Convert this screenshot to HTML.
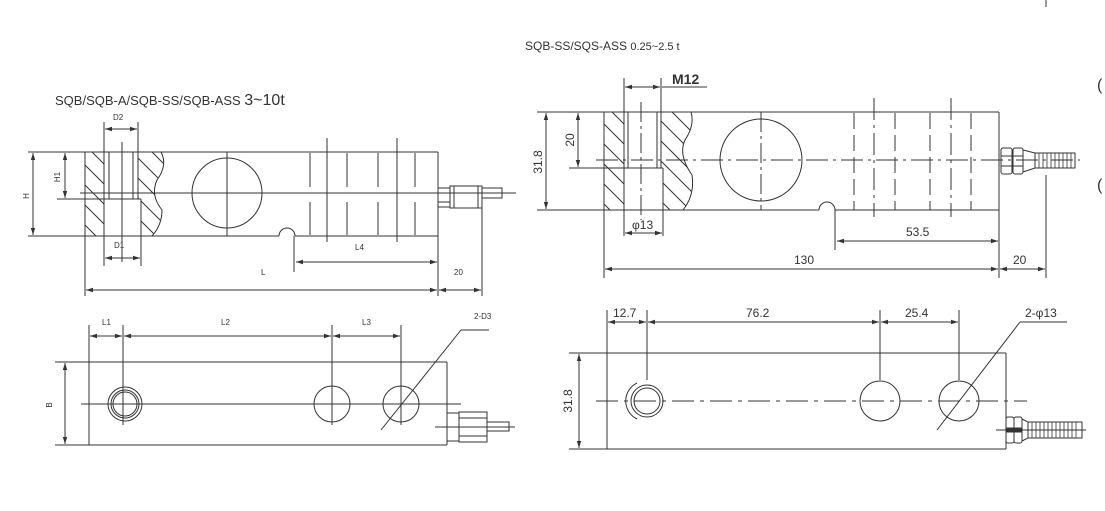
<!DOCTYPE html>
<html><head><meta charset="utf-8"><style>
html,body{margin:0;padding:0;background:#fff;}
svg{display:block;}
text{font-family:"Liberation Sans",sans-serif;fill:#333;}
</style></head><body>
<svg width="1105" height="511" viewBox="0 0 1105 511" xmlns="http://www.w3.org/2000/svg">
<defs>
<marker id="a" markerWidth="8" markerHeight="6" refX="7" refY="3" orient="auto-start-reverse" markerUnits="userSpaceOnUse"><path d="M0,0.8 L7,3 L0,5.2 Z" fill="#333"/></marker>
<clipPath id="h1"><path d="M85,152 H104 V236 H85 Z"/></clipPath>
<clipPath id="h2"><path d="M138,152 H161 Q168,165 157,180 Q150,195 162,210 Q162,225 152,236 H141 V199 H138 Z"/></clipPath>
<clipPath id="h3"><path d="M604,112 H624 V210 H604 Z"/></clipPath>
<clipPath id="h4"><path d="M661,112 H691 Q695,125 685,140 Q678,155 692,175 Q695,195 683,210 H663 V168 H661 Z"/></clipPath>
<pattern id="hp" width="20" height="20" patternUnits="userSpaceOnUse"><path d="M-4,-4 L24,24 M-24,-4 L4,24 M16,-4 L44,24" stroke="#333" stroke-width="1"/></pattern>
</defs>
<g stroke="#333" stroke-width="1" fill="none">
<line x1="1046" y1="0" x2="1046" y2="7"/>

<!-- TOP LEFT -->
<rect x="85" y="152" width="19" height="84" fill="url(#hp)" stroke="none" clip-path="url(#h1)"/>
<rect x="138" y="152" width="30" height="84" fill="url(#hp)" stroke="none" clip-path="url(#h2)"/>
<line x1="28" y1="152" x2="438" y2="152"/>
<line x1="28" y1="236" x2="279" y2="236"/>
<line x1="295" y1="236" x2="438" y2="236"/>
<path d="M279,236 A8,8 0 0 1 295,236"/>
<line x1="85" y1="152" x2="85" y2="296"/>
<line x1="438" y1="152" x2="438" y2="296"/>
<line x1="104" y1="122" x2="104" y2="266"/>
<line x1="109" y1="152" x2="109" y2="199"/>
<line x1="133" y1="152" x2="133" y2="199"/>
<line x1="138" y1="122" x2="138" y2="199"/>
<line x1="141" y1="199" x2="141" y2="266"/>
<line x1="57" y1="199" x2="141" y2="199"/>
<line x1="122" y1="142" x2="122" y2="262"/>
<path d="M161,152 Q168,165 157,180 Q150,195 162,210 Q162,225 152,236"/>
<line x1="105" y1="129" x2="137" y2="129" marker-start="url(#a)" marker-end="url(#a)"/>
<line x1="105" y1="258" x2="140" y2="258" marker-start="url(#a)" marker-end="url(#a)"/>
<line x1="33" y1="153" x2="33" y2="235" marker-start="url(#a)" marker-end="url(#a)"/>
<line x1="65" y1="153" x2="65" y2="198" marker-start="url(#a)" marker-end="url(#a)"/>
<line x1="80" y1="193" x2="516" y2="193"/>
<circle cx="227" cy="193" r="35"/>
<line x1="227" y1="152" x2="227" y2="236"/>
<g>
<line x1="310" y1="153" x2="310" y2="187"/><line x1="310" y1="202" x2="310" y2="235"/>
<line x1="347" y1="153" x2="347" y2="187"/><line x1="347" y1="202" x2="347" y2="235"/>
<line x1="378" y1="153" x2="378" y2="187"/><line x1="378" y1="202" x2="378" y2="235"/>
<line x1="415" y1="153" x2="415" y2="187"/><line x1="415" y1="202" x2="415" y2="235"/>
<line x1="327" y1="138" x2="327" y2="242"/>
<line x1="397" y1="138" x2="397" y2="242"/>
</g>
<rect x="438" y="188" width="12" height="19"/>
<line x1="438" y1="193" x2="450" y2="193"/><line x1="438" y1="202" x2="450" y2="202"/>
<rect x="450" y="186" width="32" height="22"/>
<line x1="454" y1="186" x2="454" y2="208"/><line x1="478" y1="186" x2="478" y2="208"/>
<rect x="482" y="188" width="20" height="10"/>
<line x1="482" y1="202" x2="482" y2="296"/>
<line x1="294" y1="236" x2="294" y2="272"/>
<line x1="296" y1="262" x2="437" y2="262" marker-start="url(#a)" marker-end="url(#a)"/>
<line x1="86" y1="290" x2="437" y2="290" marker-start="url(#a)" marker-end="url(#a)"/>
<line x1="439" y1="290" x2="481" y2="290" marker-start="url(#a)" marker-end="url(#a)"/>

<!-- TOP RIGHT -->
<rect x="604" y="112" width="20" height="98" fill="url(#hp)" stroke="none" clip-path="url(#h3)"/>
<rect x="661" y="112" width="35" height="98" fill="url(#hp)" stroke="none" clip-path="url(#h4)"/>
<line x1="537" y1="112" x2="999" y2="112"/>
<line x1="537" y1="210" x2="819" y2="210"/>
<line x1="835" y1="210" x2="999" y2="210"/>
<path d="M819,210 A8,8 0 0 1 835,210"/>
<line x1="604" y1="112" x2="604" y2="278"/>
<line x1="999" y1="112" x2="999" y2="278"/>
<line x1="624" y1="78" x2="624" y2="236"/>
<line x1="628" y1="112" x2="628" y2="168"/>
<line x1="657" y1="112" x2="657" y2="168"/>
<line x1="661" y1="78" x2="661" y2="168"/>
<line x1="663" y1="168" x2="663" y2="236"/>
<line x1="569" y1="168" x2="663" y2="168"/>
<path d="M691,112 Q695,125 685,140 Q678,155 692,175 Q695,195 683,210"/>
<line x1="641" y1="102" x2="641" y2="220" stroke-dasharray="20,4,3,4"/>
<line x1="625" y1="87" x2="660" y2="87" marker-start="url(#a)" marker-end="url(#a)"/>
<line x1="662" y1="87" x2="707" y2="87"/>
<line x1="625" y1="233" x2="662" y2="233" marker-start="url(#a)" marker-end="url(#a)"/>
<line x1="546" y1="113" x2="546" y2="209" marker-start="url(#a)" marker-end="url(#a)"/>
<line x1="578" y1="113" x2="578" y2="167" marker-start="url(#a)" marker-end="url(#a)"/>
<line x1="596" y1="160" x2="1080" y2="160" stroke-dasharray="22,5,3,5"/>
<circle cx="761" cy="160" r="41"/>
<line x1="761" y1="112" x2="761" y2="210" stroke-dasharray="20,4,3,4"/>
<g stroke-dasharray="16,6">
<line x1="854" y1="113" x2="854" y2="210"/>
<line x1="895" y1="113" x2="895" y2="210"/>
<line x1="930" y1="113" x2="930" y2="210"/>
<line x1="971" y1="113" x2="971" y2="210"/>
</g>
<g stroke-dasharray="22,5,3,5">
<line x1="874" y1="98" x2="874" y2="217"/>
<line x1="951" y1="98" x2="951" y2="217"/>
</g>
<rect x="1001" y="148" width="11" height="26" rx="2"/>
<rect x="1013" y="148" width="10" height="26" rx="2"/>
<line x1="1001" y1="156" x2="1023" y2="156"/><line x1="1001" y1="166" x2="1023" y2="166"/>
<path d="M1023,150 L1035,153 L1035,168 L1023,172"/>
<rect x="1035" y="153" width="40" height="15"/>
<g stroke-width="0.8">
<line x1="1039" y1="153" x2="1039" y2="168"/><line x1="1043" y1="153" x2="1043" y2="168"/><line x1="1047" y1="153" x2="1047" y2="168"/><line x1="1051" y1="153" x2="1051" y2="168"/><line x1="1055" y1="153" x2="1055" y2="168"/><line x1="1059" y1="153" x2="1059" y2="168"/><line x1="1063" y1="153" x2="1063" y2="168"/><line x1="1067" y1="153" x2="1067" y2="168"/><line x1="1071" y1="153" x2="1071" y2="168"/>
</g>
<line x1="1046" y1="175" x2="1046" y2="278"/>
<line x1="835" y1="210" x2="835" y2="250"/>
<line x1="837" y1="241" x2="998" y2="241" marker-start="url(#a)" marker-end="url(#a)"/>
<line x1="605" y1="269" x2="998" y2="269" marker-start="url(#a)" marker-end="url(#a)"/>
<line x1="1000" y1="269" x2="1045" y2="269" marker-start="url(#a)" marker-end="url(#a)"/>

<!-- BOTTOM LEFT -->
<line x1="55" y1="362" x2="447" y2="362"/>
<line x1="55" y1="445" x2="447" y2="445"/>
<line x1="447" y1="362" x2="447" y2="445"/>
<line x1="89" y1="325" x2="89" y2="445"/>
<line x1="123" y1="325" x2="123" y2="425"/>
<line x1="332" y1="325" x2="332" y2="425"/>
<line x1="401" y1="325" x2="401" y2="425"/>
<line x1="90" y1="336" x2="122" y2="336" marker-start="url(#a)" marker-end="url(#a)"/>
<line x1="124" y1="336" x2="331" y2="336" marker-start="url(#a)" marker-end="url(#a)"/>
<line x1="333" y1="336" x2="400" y2="336" marker-start="url(#a)" marker-end="url(#a)"/>
<line x1="65" y1="363" x2="65" y2="444" marker-start="url(#a)" marker-end="url(#a)"/>
<line x1="81" y1="404" x2="461" y2="404"/>
<circle cx="125" cy="404" r="17"/>
<circle cx="125" cy="404" r="14"/>
<circle cx="125" cy="404" r="12"/>
<circle cx="332" cy="404" r="18"/>
<circle cx="401" cy="404" r="18"/>
<line x1="381" y1="430" x2="461" y2="330"/>
<line x1="461" y1="330" x2="489" y2="330"/>
<rect x="447" y="413" width="12" height="28"/>
<rect x="459" y="412" width="28" height="30"/>
<line x1="459" y1="418" x2="487" y2="418"/><line x1="459" y1="436" x2="487" y2="436"/>
<rect x="487" y="422" width="22" height="9"/>
<line x1="435" y1="427" x2="515" y2="427"/>

<!-- BOTTOM RIGHT -->
<line x1="569" y1="353" x2="1006" y2="353"/>
<line x1="569" y1="449" x2="1006" y2="449"/>
<line x1="1006" y1="353" x2="1006" y2="449"/>
<line x1="607" y1="310" x2="607" y2="449"/>
<line x1="647" y1="310" x2="647" y2="380"/>
<line x1="880" y1="310" x2="880" y2="380"/>
<line x1="959" y1="310" x2="959" y2="380"/>
<line x1="608" y1="322" x2="646" y2="322" marker-start="url(#a)" marker-end="url(#a)"/>
<line x1="648" y1="322" x2="879" y2="322" marker-start="url(#a)" marker-end="url(#a)"/>
<line x1="881" y1="322" x2="958" y2="322" marker-start="url(#a)" marker-end="url(#a)"/>
<line x1="579" y1="354" x2="579" y2="448" marker-start="url(#a)" marker-end="url(#a)"/>
<line x1="596" y1="401" x2="1027" y2="401" stroke-dasharray="22,6,4,6"/>
<circle cx="647" cy="401" r="16"/>
<circle cx="647" cy="401" r="13"/>
<path d="M637,383 A20,20 0 0 0 637,419"/>
<circle cx="880" cy="401" r="20"/>
<circle cx="959" cy="401" r="20"/>
<line x1="937" y1="430" x2="1020" y2="322"/>
<line x1="1020" y1="322" x2="1067" y2="322"/>
<rect x="1006" y="417" width="8" height="26" rx="2"/>
<rect x="1014" y="417" width="8" height="26" rx="2"/>
<rect x="1006" y="428" width="16" height="4" fill="#333"/>
<path d="M1022,419 L1028,422 L1028,438 L1022,441"/>
<rect x="1028" y="422" width="54" height="16"/>
<g stroke-width="0.8">
<line x1="1032" y1="422" x2="1032" y2="438"/><line x1="1036" y1="422" x2="1036" y2="438"/><line x1="1040" y1="422" x2="1040" y2="438"/><line x1="1044" y1="422" x2="1044" y2="438"/><line x1="1048" y1="422" x2="1048" y2="438"/><line x1="1052" y1="422" x2="1052" y2="438"/><line x1="1056" y1="422" x2="1056" y2="438"/><line x1="1060" y1="422" x2="1060" y2="438"/><line x1="1064" y1="422" x2="1064" y2="438"/><line x1="1068" y1="422" x2="1068" y2="438"/><line x1="1072" y1="422" x2="1072" y2="438"/><line x1="1076" y1="422" x2="1076" y2="438"/>
</g>
<line x1="996" y1="430" x2="1086" y2="430"/>
</g>

<text x="55" y="105" font-size="13">SQB/SQB-A/SQB-SS/SQB-ASS <tspan font-size="16">3~10t</tspan></text>
<text x="113" y="120" font-size="8">D2</text>
<text x="114" y="248" font-size="8">D1</text>
<text x="355" y="250" font-size="8">L4</text>
<text x="261" y="275" font-size="8">L</text>
<text x="454" y="275" font-size="8">20</text>
<text transform="translate(29,196) rotate(-90)" font-size="8" text-anchor="middle">H</text>
<text transform="translate(60,177) rotate(-90)" font-size="8" text-anchor="middle">H1</text>

<text x="525" y="50" font-size="12">SQB-SS/SQS-ASS <tspan font-size="11">0.25~2.5 t</tspan></text>
<text x="672" y="84" font-size="14" font-weight="bold">M12</text>
<text x="632" y="229" font-size="12">φ13</text>
<text x="906" y="236" font-size="12">53.5</text>
<text x="794" y="264" font-size="12">130</text>
<text x="1013" y="264" font-size="12">20</text>
<text transform="translate(542,162) rotate(-90)" font-size="12" text-anchor="middle">31.8</text>
<text transform="translate(574,140) rotate(-90)" font-size="12" text-anchor="middle">20</text>
<text x="1097" y="90" font-size="16">(</text>
<text x="1097" y="190" font-size="16">(</text>

<text x="102" y="325" font-size="8">L1</text>
<text x="221" y="325" font-size="8">L2</text>
<text x="362" y="325" font-size="8">L3</text>
<text x="474" y="319" font-size="8">2-D3</text>
<text transform="translate(52,405) rotate(-90)" font-size="8" text-anchor="middle">B</text>
<text x="613" y="317" font-size="12">12.7</text>
<text x="746" y="317" font-size="12">76.2</text>
<text x="905" y="317" font-size="12">25.4</text>
<text x="1025" y="317" font-size="12">2-φ13</text>
<text transform="translate(572,401) rotate(-90)" font-size="12" text-anchor="middle">31.8</text>
</svg>
</body></html>
